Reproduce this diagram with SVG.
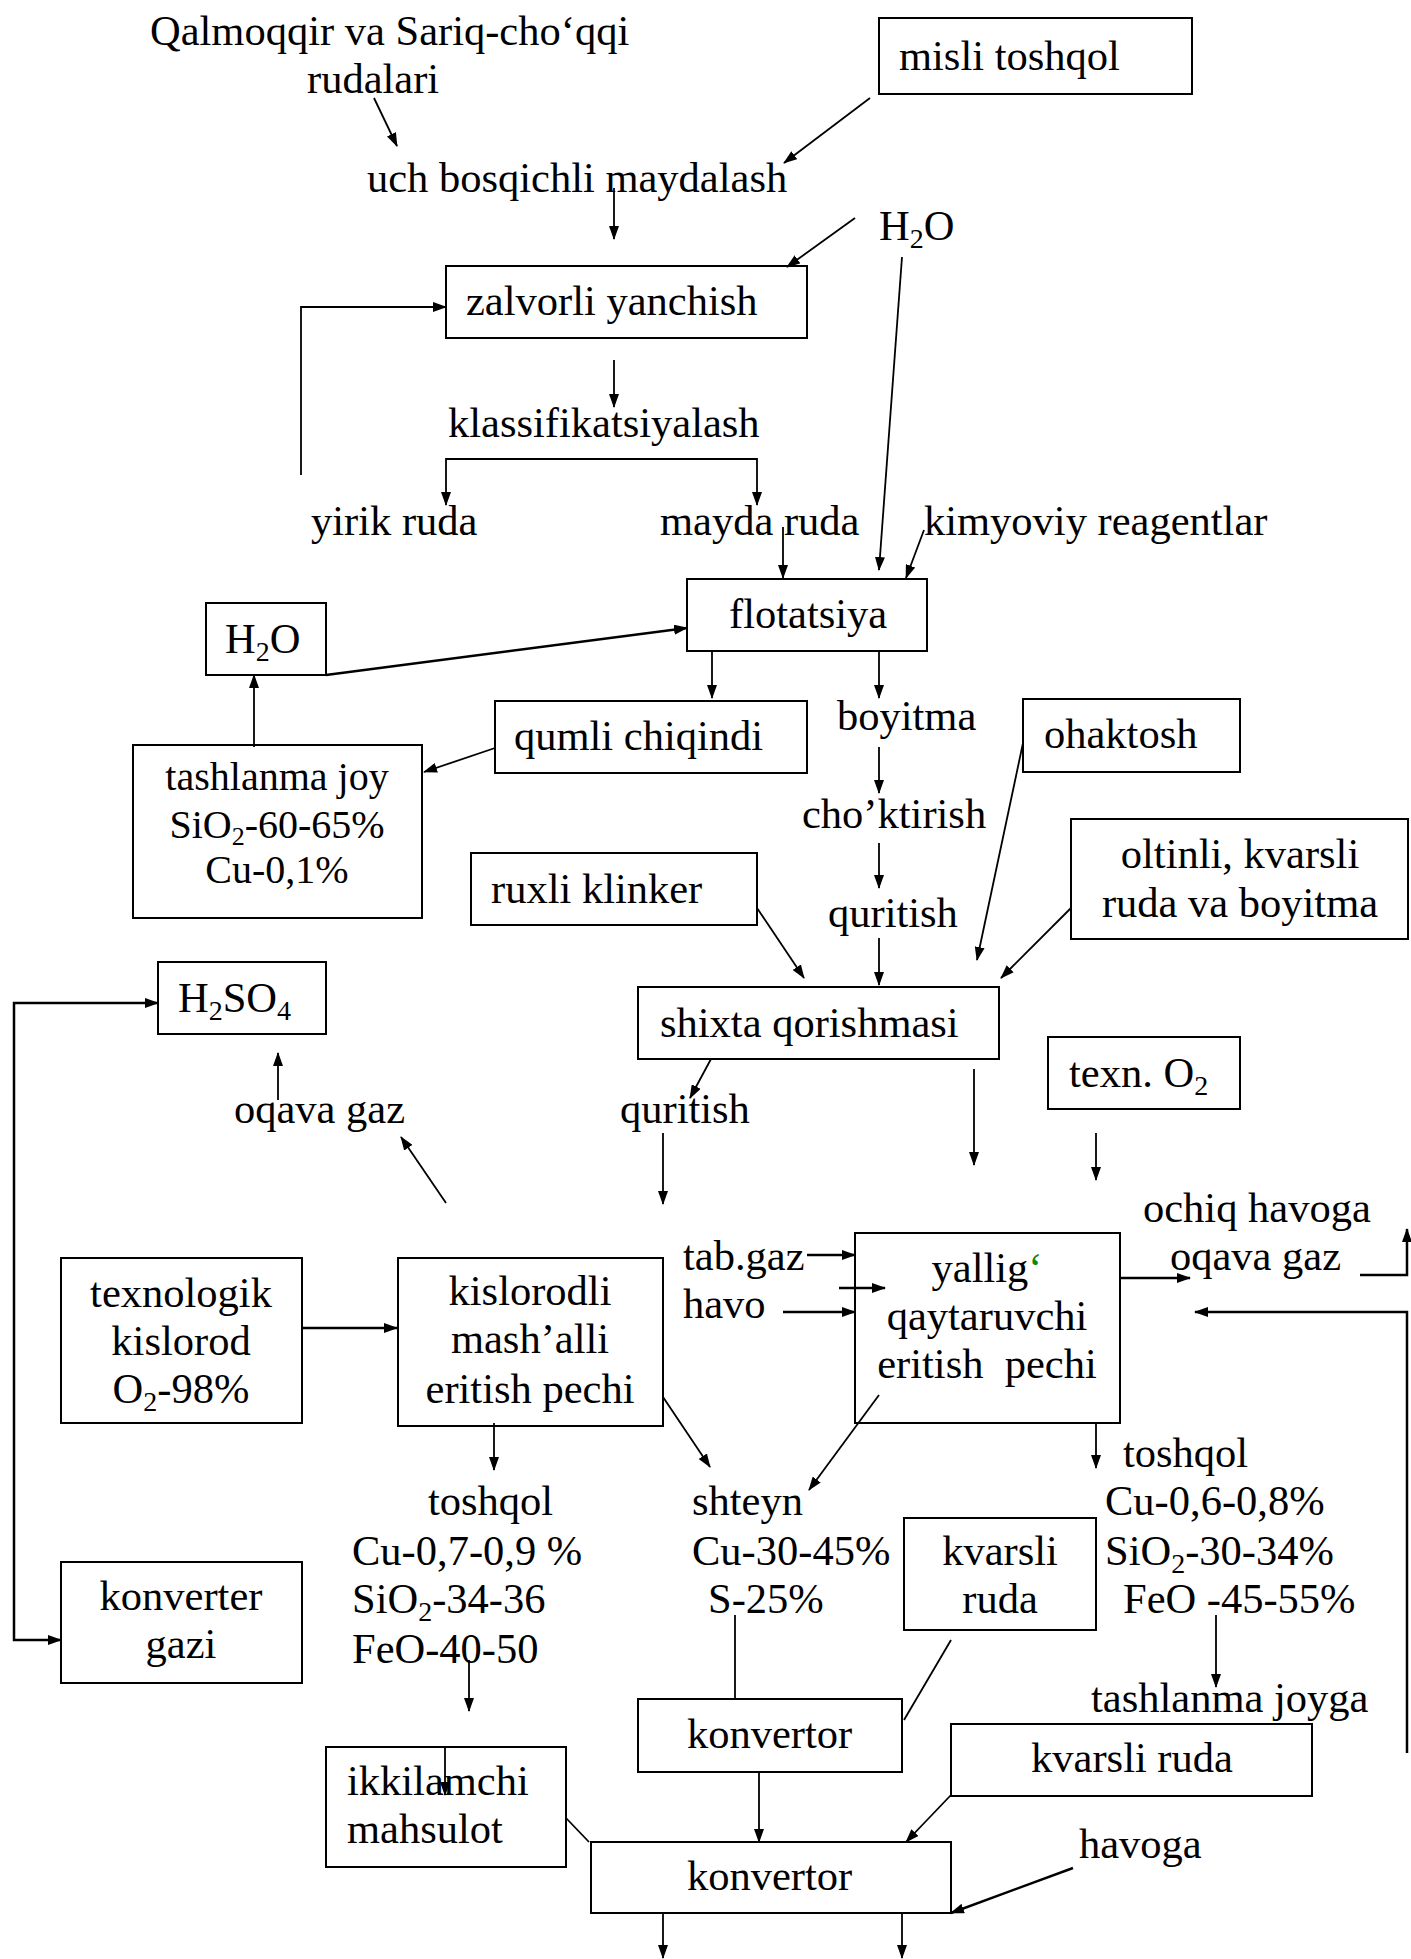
<svg xmlns="http://www.w3.org/2000/svg" width="1411" height="1959" viewBox="0 0 1411 1959">
<defs>
<marker id="ah" markerUnits="userSpaceOnUse" markerWidth="14" markerHeight="10" refX="13" refY="5" orient="auto">
<path d="M0,0 L14,5 L0,10 z" fill="#000"/>
</marker>
<style>
text{font-family:"Liberation Serif","Times New Roman",serif;font-size:42.5px;fill:#000}
.c{text-anchor:middle}
.b{fill:none;stroke:#000;stroke-width:2}
.l{fill:none;stroke:#000;stroke-width:1.8}
.a{fill:none;stroke:#000;stroke-width:1.8;marker-end:url(#ah)}
.s{font-size:28px}
.sm{font-size:40px}
</style>
</defs>
<rect width="1411" height="1959" fill="#fff"/>
<g id="connectors">
<path class="a" d="M374,98 L397,146"/>
<path class="a" d="M870,98 L784,163"/>
<path class="a" d="M614,188 V239"/>
<path class="a" d="M855,218 L787,267"/>
<path class="a" d="M301,475 V307 H446"/>
<path class="a" d="M614,360 V407"/>
<path class="a" d="M601,459 H446 V505"/>
<path class="a" d="M601,459 H757 V505"/>
<path class="a" d="M902,257 L879,570"/>
<path class="a" d="M783,527 V578"/>
<path class="a" d="M924,530 L906,578"/>
<path class="a" d="M326,675 L687,628" style="stroke-width:2.5"/>
<path class="a" d="M254,747 V675"/>
<path class="a" d="M712,651 V698"/>
<path class="a" d="M879,651 V698"/>
<path class="a" d="M495,748 L424,772"/>
<path class="a" d="M879,747 V793"/>
<path class="a" d="M879,843 V888"/>
<path class="a" d="M879,938 V985"/>
<path class="a" d="M1023,743 L977,960"/>
<path class="a" d="M1071,908 L1001,978"/>
<path class="a" d="M757,908 L804,978"/>
<path class="a" d="M14,1320 V1003 H158" style="stroke-width:2.5"/>
<path class="a" d="M14,1320 V1640 H61" style="stroke-width:2.5"/>
<path class="a" d="M711,1059 L690,1098"/>
<path class="a" d="M663,1133 V1204"/>
<path class="a" d="M974,1069 V1165"/>
<path class="a" d="M1096,1133 V1180"/>
<path class="a" d="M278,1100 V1053"/>
<path class="a" d="M446,1203 L401,1137"/>
<path class="a" d="M1360,1275 H1407 V1229" style="stroke-width:2.5"/>
<path class="a" d="M807,1255 H855" style="stroke-width:2.5"/>
<path class="a" d="M839,1288 H885" style="stroke-width:2.5"/>
<path class="a" d="M783,1312 H855" style="stroke-width:2.5"/>
<path class="a" d="M1120,1278 H1190" style="stroke-width:2.5"/>
<path class="a" d="M1407,1753 V1312 H1195" style="stroke-width:2.5"/>
<path class="a" d="M302,1328 H397" style="stroke-width:2.5"/>
<path class="a" d="M494,1423 V1470"/>
<path class="a" d="M663,1397 L710,1467"/>
<path class="a" d="M879,1395 L809,1490"/>
<path class="a" d="M1096,1423 V1468"/>
<path class="a" d="M1216,1615 V1687"/>
<path class="a" d="M469,1660 V1711"/>
<path class="l" d="M735,1615 V1699"/>
<path class="l" d="M951,1640 L904,1720"/>
<path class="a" d="M445,1747 V1795"/>
<path class="l" d="M566,1818 L589,1842"/>
<path class="a" d="M759,1772 V1842"/>
<path class="a" d="M951,1795 L906,1842"/>
<path class="a" d="M1073,1868 L951,1913" style="stroke-width:2.5"/>
<path class="a" d="M663,1913 V1958"/>
<path class="a" d="M902,1913 V1958"/>
</g>
<g id="n-qalmoqqir"><text x="150" y="45">Qalmoqqir va Sariq-cho‘qqi</text><text x="307" y="93">rudalari</text></g>
<g id="n-misli"><rect class="b" x="879" y="18" width="313" height="76"/><text x="899" y="70">misli toshqol</text></g>
<g id="n-uch"><text x="367" y="192">uch bosqichli maydalash</text></g>
<g id="n-h2o-1"><text x="879" y="240">H<tspan class="s" dy="8">2</tspan><tspan dy="-8">O</tspan></text></g>
<g id="n-zalvorli"><rect class="b" x="446" y="266" width="361" height="72"/><text x="466" y="315">zalvorli yanchish</text></g>
<g id="n-klass"><text x="448" y="437">klassifikatsiyalash</text></g>
<g id="n-yirik"><text x="311" y="535">yirik ruda</text></g>
<g id="n-mayda"><text x="660" y="535">mayda ruda</text></g>
<g id="n-kimyoviy"><text x="924" y="535">kimyoviy reagentlar</text></g>
<g id="n-flotatsiya"><rect class="b" x="687" y="579" width="240" height="72"/><text x="729" y="628">flotatsiya</text></g>
<g id="n-h2o-2"><rect class="b" x="206" y="603" width="120" height="72"/><text x="225" y="653">H<tspan class="s" dy="8">2</tspan><tspan dy="-8">O</tspan></text></g>
<g id="n-qumli"><rect class="b" x="495" y="701" width="312" height="72"/><text x="514" y="750">qumli chiqindi</text></g>
<g id="n-tashlanma"><rect class="b" x="133" y="745" width="289" height="173"/><text class="c sm" x="277" y="790">tashlanma joy</text><text class="c sm" x="277" y="838">SiO<tspan font-size="26" dy="7">2</tspan><tspan dy="-7">-60-65%</tspan></text><text class="c sm" x="277" y="883">Cu-0,1%</text></g>
<g id="n-boyitma"><text x="837" y="730">boyitma</text></g>
<g id="n-ohaktosh"><rect class="b" x="1023" y="699" width="217" height="73"/><text x="1044" y="748">ohaktosh</text></g>
<g id="n-choktirish"><text x="802" y="828">cho’ktirish</text></g>
<g id="n-oltinli"><rect class="b" x="1071" y="819" width="337" height="120"/><text class="c" x="1240" y="868">oltinli, kvarsli</text><text class="c" x="1240" y="917">ruda va boyitma</text></g>
<g id="n-ruxli"><rect class="b" x="471" y="853" width="286" height="72"/><text x="491" y="903">ruxli klinker</text></g>
<g id="n-quritish-1"><text x="828" y="927">quritish</text></g>
<g id="n-h2so4"><rect class="b" x="158" y="962" width="168" height="72"/><text x="178" y="1012">H<tspan class="s" dy="8">2</tspan><tspan dy="-8">SO</tspan><tspan class="s" dy="8">4</tspan></text></g>
<g id="n-shixta"><rect class="b" x="638" y="987" width="361" height="72"/><text x="660" y="1037">shixta qorishmasi</text></g>
<g id="n-texn"><rect class="b" x="1048" y="1037" width="192" height="72"/><text x="1069" y="1087">texn. O<tspan class="s" dy="8">2</tspan></text></g>
<g id="n-oqava-1"><text x="234" y="1123">oqava gaz</text></g>
<g id="n-quritish-2"><text x="620" y="1123">quritish</text></g>
<g id="n-ochiq"><text x="1143" y="1222">ochiq havoga</text><text x="1170" y="1270">oqava gaz</text></g>
<g id="n-tabgaz"><text x="683" y="1270">tab.gaz</text></g>
<g id="n-havo"><text x="683" y="1318">havo</text></g>
<g id="n-yallig"><rect class="b" x="855" y="1233" width="265" height="190"/><text class="c" x="987" y="1282">yallig<tspan fill="#0a8a0a">‘</tspan></text><text class="c" x="987" y="1330">qaytaruvchi</text><text class="c" x="987" y="1378" xml:space="preserve">eritish  pechi</text></g>
<g id="n-texnologik"><rect class="b" x="61" y="1258" width="241" height="165"/><text class="c" x="181" y="1307">texnologik</text><text class="c" x="181" y="1355">kislorod</text><text class="c" x="181" y="1403">O<tspan class="s" dy="8">2</tspan><tspan dy="-8">-98%</tspan></text></g>
<g id="n-kislorodli"><rect class="b" x="398" y="1258" width="265" height="168"/><text class="c" x="530" y="1305">kislorodli</text><text class="c" x="530" y="1353">mash’alli</text><text class="c" x="530" y="1403">eritish pechi</text></g>
<g id="n-toshqol-r"><text x="1123" y="1467">toshqol</text><text x="1105" y="1515">Cu-0,6-0,8%</text><text x="1105" y="1565">SiO<tspan class="s" dy="8">2</tspan><tspan dy="-8">-30-34%</tspan></text><text x="1123" y="1613">FeO -45-55%</text></g>
<g id="n-toshqol-l"><text x="428" y="1515">toshqol</text><text x="352" y="1565">Cu-0,7-0,9 %</text><text x="352" y="1613">SiO<tspan class="s" dy="8">2</tspan><tspan dy="-8">-34-36</tspan></text><text x="352" y="1663">FeO-40-50</text></g>
<g id="n-shteyn"><text x="692" y="1515">shteyn</text><text x="692" y="1565">Cu-30-45%</text><text x="708" y="1613">S-25%</text></g>
<g id="n-kvarsli-1"><rect class="b" x="904" y="1518" width="192" height="112"/><text class="c" x="1000" y="1565">kvarsli</text><text class="c" x="1000" y="1613">ruda</text></g>
<g id="n-konverter-gazi"><rect class="b" x="61" y="1562" width="241" height="121"/><text class="c" x="181" y="1610">konverter</text><text class="c" x="181" y="1658">gazi</text></g>
<g id="n-tashlanma-joyga"><text x="1091" y="1712">tashlanma joyga</text></g>
<g id="n-konvertor-1"><rect class="b" x="638" y="1699" width="264" height="73"/><text x="687" y="1748">konvertor</text></g>
<g id="n-kvarsli-2"><rect class="b" x="951" y="1724" width="361" height="72"/><text class="c" x="1132" y="1772">kvarsli ruda</text></g>
<g id="n-ikkilamchi"><rect class="b" x="326" y="1747" width="240" height="120"/><text x="347" y="1795">ikkilamchi</text><text x="347" y="1843">mahsulot</text></g>
<g id="n-konvertor-2"><rect class="b" x="591" y="1842" width="360" height="71"/><text x="687" y="1890">konvertor</text></g>
<g id="n-havoga"><text x="1079" y="1858">havoga</text></g>
</svg>
